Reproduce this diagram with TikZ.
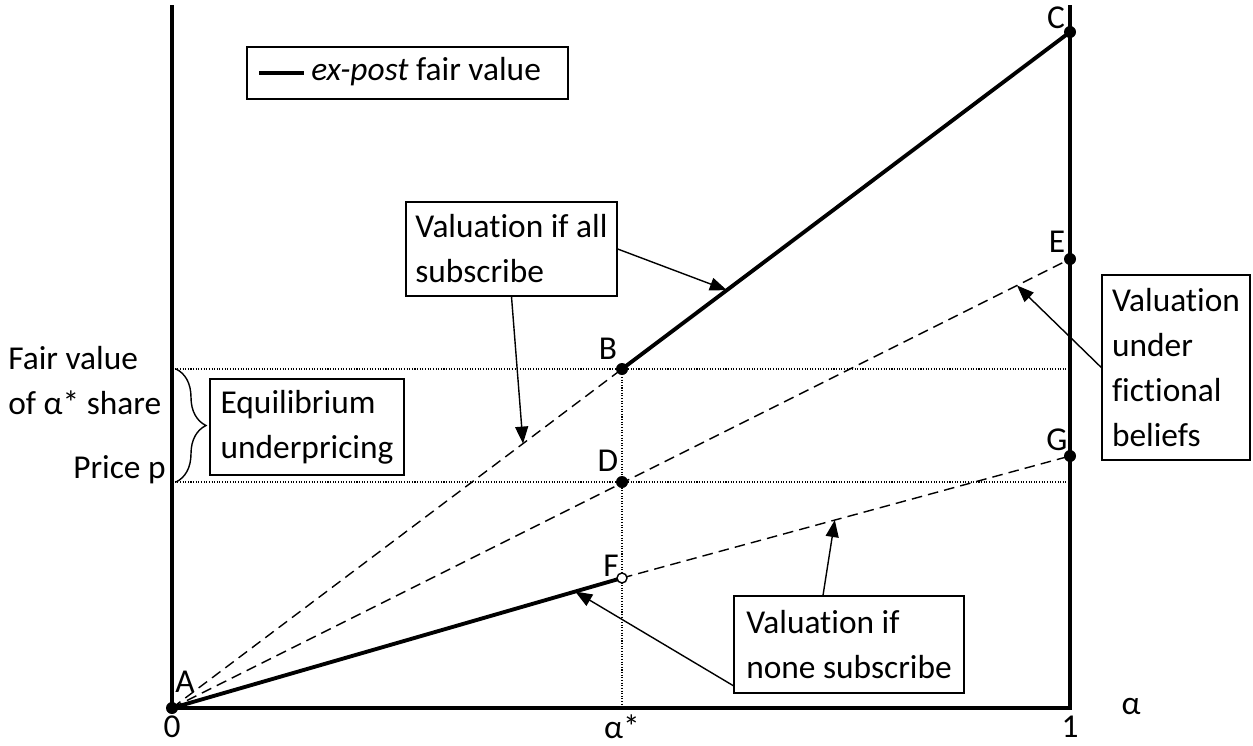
\documentclass[tikz,border=0pt]{standalone}
\usepackage{fontspec}
\setmainfont{Carlito}[Ligatures=NoCommon]
\usetikzlibrary{arrows.meta,decorations.pathreplacing}

\tikzset{
  box/.style={draw, line width=0.8pt, align=left, inner sep=3pt},
  fair/.style={line width=2.2pt},
  guess/.style={line width=0.8pt, dash pattern=on 6pt off 3.5pt},
  grid/.style={line width=0.6pt, dash pattern=on 0.6pt off 0.9pt},
  callout/.style={line width=0.8pt, -{Triangle[length=0.34cm,width=0.26cm]}},
  lbl/.style={inner sep=0pt}
}

\begin{document}
\begin{tikzpicture}[x=0.02cm,y=-0.02cm,font=\fontsize{19}{25.6}\selectfont]
  \useasboundingbox (0,0) rectangle (1253,745);
  % points
  \coordinate (A) at (172,708);
  \coordinate (B) at (622,369);
  \coordinate (C) at (1070,32);
  \coordinate (D) at (622,482);
  \coordinate (E) at (1070,259);
  \coordinate (F) at (622,578);
  \coordinate (G) at (1070,456);
  \coordinate (top0) at (172,5);
  \coordinate (top1) at (1070,5);
  \coordinate (bot1) at (1070,708);
  \coordinate (astar) at (622,708);
  \coordinate (v0) at (172,369);
  \coordinate (v1) at (1070,369);
  \coordinate (p0) at (172,482);
  \coordinate (p1) at (1070,482);

  % axes
  \draw[line width=2.2pt] (top0) -- (A) -- (bot1) -- (top1);
  \draw[grid] (v0) -- (v1);
  \draw[grid] (p0) -- (p1);
  \draw[grid] (B) -- (astar);

  % valuations
  \draw[guess] (A) -- (B);
  \draw[guess] (A) -- (E);
  \draw[guess] (F) -- (G);
  \draw[fair] (A) -- (F);
  \draw[fair] (B) -- (C);
  \foreach \p in {A,B,C,D,E,G}
    \fill (\p) circle (0.12cm);
  \draw[line width=0.8pt, fill=white] (F) circle (0.1cm);

  \node[lbl] (Alab) at (185,682) {A};
  \node[lbl] (Blab) at (608,349) {B};
  \node[lbl] (Clab) at (1056,18) {C};
  \node[lbl] (Dlab) at (608,461) {D};
  \node[lbl] (Elab) at (1057,242) {E};
  \node[lbl] (Flab) at (611,566) {F};
  \node[lbl] (Glab) at (1057,440) {G};

  \node[lbl] (zero) at (172,727) {0};
  \node[lbl] (alstar) at (622,727) {α*};
  \node[lbl] (one) at (1070,727) {1};
  \node[lbl] (alpha) at (1131,706) {α};

  \node[lbl, align=left, anchor=west] (fvlab) at (8,381) {Fair value\\of α* share};
  \node[lbl, anchor=east] (plab) at (166,470) {Price p};
  \draw[line width=0.8pt, decorate, decoration={brace, amplitude=0.6cm}] (176,369) -- (176,482);

  % legend
  \node[box, minimum width=6.42cm, minimum height=1.04cm] (legend) at (407.5,73) {};
  \coordinate (lg0) at (259,73);
  \coordinate (lg1) at (304,73);
  \draw[line width=1.8pt] (lg0) -- (lg1);
  \node[lbl, anchor=west] (lgtext) at (311,72) {\textit{ex-post} fair value};

  % callouts
  \node[box, minimum width=4.22cm, minimum height=1.88cm] (allbox) at (511.5,249) {Valuation if all\\subscribe};
  \node[box, minimum width=3.88cm, minimum height=1.92cm] (eqbox) at (307,427) {Equilibrium\\underpricing};
  \node[box, minimum width=2.96cm, minimum height=3.7cm] (fictbox) at (1176,367.5) {Valuation\\under\\fictional\\beliefs};
  \node[box, minimum width=4.6cm, minimum height=1.94cm] (nonebox) at (849,644.5) {Valuation if\\none subscribe};

  \path (B) -- (C) coordinate[pos=0.234] (tipBC);
  \path (A) -- (B) coordinate[pos=0.78] (tipAB);
  \path (A) -- (E) coordinate[pos=0.941] (tipAE);
  \path (A) -- (F) coordinate[pos=0.896] (tipAF);
  \path (F) -- (G) coordinate[pos=0.475] (tipFG);

  \draw[callout] (allbox.east) -- (tipBC);
  \draw[callout] (allbox.south) -- (tipAB);
  \draw[callout] (fictbox.west) -- (tipAE);
  \draw[callout] ([yshift=0.16cm]nonebox.south west) -- (tipAF);
  \draw[callout] ([xshift=-0.52cm]nonebox.north) -- (tipFG);
\end{tikzpicture}
\end{document}
